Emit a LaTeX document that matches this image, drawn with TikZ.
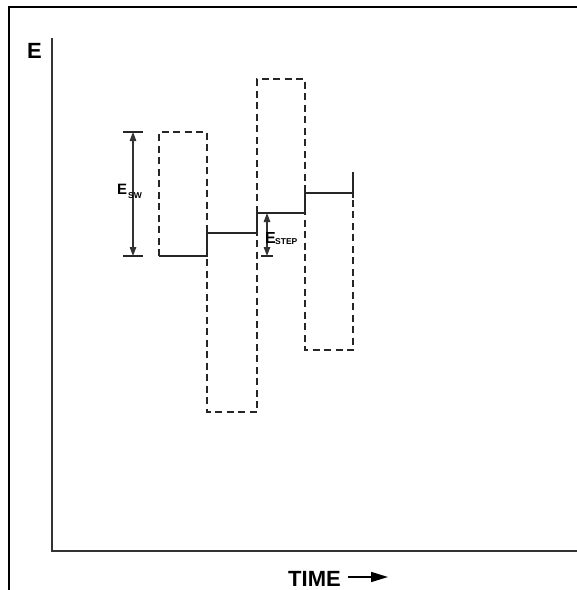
\documentclass[tikz,border=0pt]{standalone}
\usepackage{fontspec}
\setmainfont{Liberation Sans}[BoldFont={Liberation Sans Bold}]
\usetikzlibrary{arrows.meta}
\begin{document}
\begin{tikzpicture}[x=1pt,y=-1pt,
  frame/.style={line width=2.6pt},
  axis/.style={line width=1.8pt, draw=black!80},
  wave/.style={line width=1.7pt, dash pattern=on 7pt off 4.5pt, draw=black!85},
  stair/.style={line width=1.6pt, draw=black!85},
  dimarrow/.style={line width=1.3pt, draw=black!80, {Triangle[length=9pt,width=6.5pt]}-{Triangle[length=9pt,width=6.5pt]}},
  tick/.style={line width=1.5pt, draw=black!85},
  lbl/.style={font=\bfseries, inner sep=0pt, anchor=base west}]
\useasboundingbox (0,0) rectangle (577,590);
% frame
\coordinate (fbl) at (9,592);
\coordinate (ftl) at (9,7);
\coordinate (ftr) at (579,7);
\draw[frame] (fbl) -- (ftl) -- (ftr);
% axes
\coordinate (ytop) at (52,38);
\coordinate (orig) at (52,551);
\coordinate (xend) at (579,551);
\draw[axis] (ytop) -- (orig) -- (xend);
\node[lbl] (elabel) at (27,58) {\fontsize{22}{22}\selectfont E};
\node[lbl] (time) at (288,586) {\fontsize{22}{22}\selectfont TIME};
\coordinate (tstart) at (348,577);
\coordinate (tend) at (388,577);
\draw[line width=1.6pt, -{Triangle[length=17pt,width=10pt]}] (tstart) -- (tend);
% dashed square wave
\coordinate (w0) at (159,256);
\coordinate (w1) at (159,132);
\coordinate (w2) at (207,132);
\coordinate (w3) at (207,412);
\coordinate (w4) at (257,412);
\coordinate (w5) at (257,79);
\coordinate (w6) at (305,79);
\coordinate (w7) at (305,350);
\coordinate (w8) at (353,350);
\coordinate (w9) at (353,197);
\draw[wave] (w0) -- (w1) -- (w2) -- (w3) -- (w4) -- (w5) -- (w6) -- (w7) -- (w8) -- (w9);
% staircase
\coordinate (s0) at (159,256);
\coordinate (s1) at (207,256);
\coordinate (s2) at (207,233);
\coordinate (s3) at (257,233);
\coordinate (s4) at (257,213);
\coordinate (s5) at (305,213);
\coordinate (s6) at (305,193);
\coordinate (s7) at (353,193);
\coordinate (s8) at (353,198);
\coordinate (s9) at (353,172);
\draw[stair] (s0) -- (s1) -- (s2) -- (s3) -- (s4) -- (s5) -- (s6) -- (s7);
\draw[stair] (s8) -- (s9);
% E_SW dimension
\coordinate (swt) at (133,132);
\coordinate (swb) at (133,256);
\draw[tick] (123,132) -- (143,132);
\draw[tick] (123,256) -- (143,256);
\draw[dimarrow] (swt) -- (swb);
\node[lbl] (esw) at (117,194) {\fontsize{15}{15}\selectfont E};
\node[lbl] (eswsub) at (128,198.5) {\fontsize{8.5}{8.5}\selectfont SW};
% E_STEP dimension
\coordinate (stt) at (267,213);
\coordinate (stb) at (267,256);
\draw[tick] (261,256) -- (273,256);
\draw[dimarrow] (stt) -- (stb);
\node[lbl] (estep) at (265,243) {\fontsize{16}{16}\selectfont E};
\node[lbl] (estepsub) at (275,244.5) {\fontsize{8.5}{8.5}\selectfont STEP};
\end{tikzpicture}
\end{document}
